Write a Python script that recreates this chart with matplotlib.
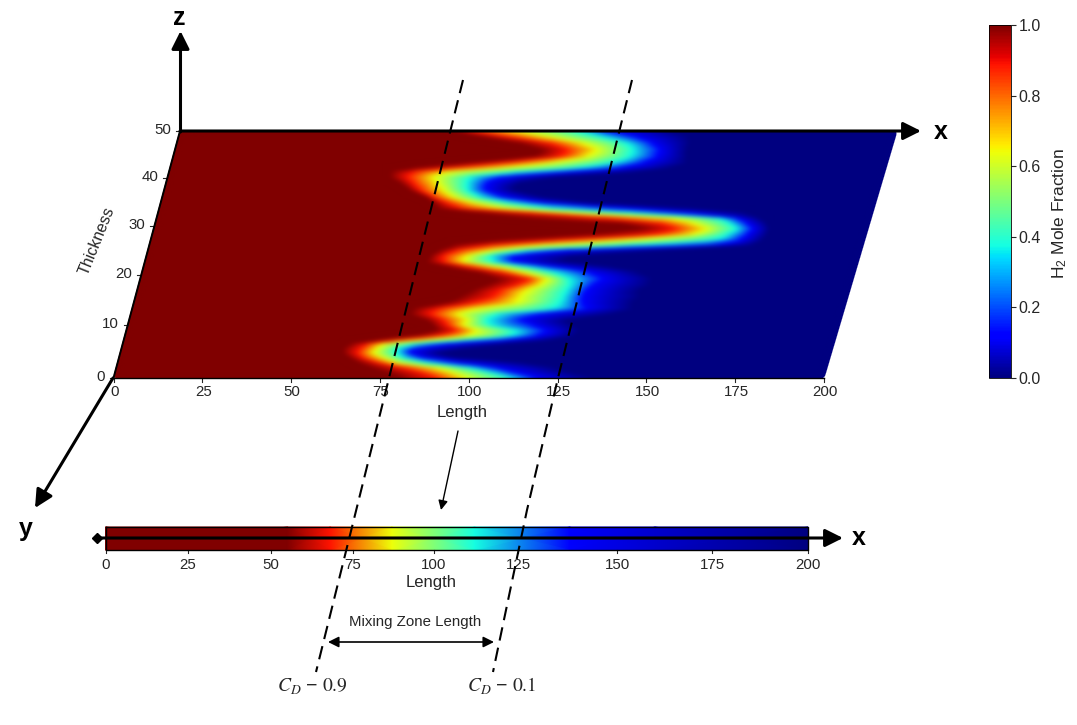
"""Mixing-zone sketch: sheared H2 mole fraction map, its 1D average strip, colorbar and axes."""

import numpy as np
import matplotlib
matplotlib.use("Agg")
import matplotlib.pyplot as plt
from matplotlib.cm import ScalarMappable
from matplotlib.colors import Normalize

plt.rcParams["font.family"] = ["Liberation Sans", "DejaVu Sans"]
plt.rcParams["mathtext.default"] = "regular"

TEXT = "#262626"

# iso-fraction fronts: length where each row reaches a level
THICKNESS = [50, 48.7, 47.4, 46, 44.5, 43.2, 42.1, 41.3, 40.2, 39, 37.5, 36, 34.8, 33.7, 32.7, 31.6,
             30.6, 29.4, 28.2, 27.1, 26.1, 25.1, 23.9, 22.7, 21.6, 20.6, 19.2, 18, 17, 15.6, 14.4,
             13.2, 12.2, 11, 10, 8.9, 7.9, 7.2, 6.4, 5.5, 4.7, 3.8, 2.8, 1.9, 0.9, 0]
FRONT_100 = [76.2, 85, 95.8, 102.8, 100.5, 83.4, 67.9, 61.8, 62.1, 65.4, 68.7, 74, 76.2, 78, 90.1, 105.3,
             130.1, 138.1, 121.8, 97.8, 85, 81.8, 79.5, 79.1, 85.9, 93.9, 100.9, 97.7, 94.2, 91.1, 87.9,
             78.8, 78.4, 83.6, 85.7, 87.3, 81, 72, 63.9, 62.3, 62.6, 65, 68.2, 72.2, 77.4, 81.4]
FRONT_089 = [80.9, 92.6, 104.2, 109.5, 108, 92.6, 77.4, 68.2, 66.9, 69, 71.5, 75.7, 80.1, 84.1, 104.9, 126,
             141.2, 146.5, 140.3, 114.6, 95.4, 86.6, 83.1, 83.6, 91.5, 100.3, 109.3, 106.1, 101.7, 100.3, 95.2,
             85.6, 84, 88.1, 89.6, 92.9, 87.7, 76.8, 68.7, 67.1, 66.6, 68.6, 73.8, 80.7, 86.7, 91.8]
FRONT_064 = [92.9, 103.7, 113.4, 117.8, 115.6, 105.8, 93, 77.7, 74.2, 75.7, 77.9, 81.3, 87.4, 95.9, 115.3, 144.5,
             150.5, 154.9, 151.5, 133.4, 110.2, 96.6, 89.8, 89.2, 99.9, 106.8, 114.1, 112.6, 109.3, 107.9, 107.5,
             95.7, 91.6, 94.9, 94.1, 98.5, 96.1, 86, 73.2, 71.8, 71.1, 74.2, 78.6, 90.2, 95.1, 99.4]
FRONT_038 = [110.7, 118.5, 125.7, 127.9, 127.6, 123.3, 113.7, 97.2, 84.5, 84.1, 84.7, 88.8, 97.7, 109.3, 132.9, 157.7,
             160.8, 163.3, 161, 158.6, 135.5, 106.2, 96.3, 97.6, 107.5, 115.2, 120.5, 121, 120.5, 120, 119.6,
             118.1, 102.8, 100.5, 101.7, 109.8, 108.2, 96.4, 81.6, 77.5, 77.8, 79.9, 87.9, 99.5, 106.4, 112.4]
FRONT_012 = [118, 128, 132.9, 135.4, 135.1, 131.7, 125.7, 112, 92.9, 89.7, 89.7, 95.3, 106.9, 128.9, 148, 162.4,
             165.6, 167.8, 166.6, 165, 159.8, 117.4, 102.7, 103.2, 115.9, 125.6, 129.8, 127.5, 126.1, 125.6, 126.1,
             127.7, 114.9, 109.7, 113.8, 118.2, 115.8, 107.7, 91.1, 82, 81.4, 85.5, 96.3, 107.1, 113.1, 119.1]
FRONT_000 = [136.7, 142.8, 143.3, 143, 143.5, 144, 139.7, 130.8, 108.8, 98.9, 97.5, 106.5, 120.1, 148.4, 164.8, 168.9,
             171.2, 172.5, 172.2, 171.4, 169.1, 145.4, 119.5, 117.2, 131.6, 139.6, 143.8, 143.4, 141, 141.6, 140.1,
             140.6, 135.4, 122.9, 125, 127.5, 125.9, 120.6, 108, 96, 89, 95, 115.1, 124, 128.9, 134.9]
LEVELS = [1.0, 1.0, 0.89, 0.64, 0.375, 0.125, 0.0, 0.0]

# width-averaged strip
STRIP_LENGTH = [0, 55, 68, 87, 112, 138, 160, 200]
STRIP_VALUE = [1.0, 1.0, 0.89, 0.64, 0.375, 0.125, 0.07, 0.0]

LENGTH_TICKS = [0, 25, 50, 75, 100, 125, 150, 175, 200]
THICK_TICKS = [0, 10, 20, 30, 40, 50]
CBAR_TICKS = [0.0, 0.2, 0.4, 0.6, 0.8, 1.0]

# picture calibration
THICK_PX = [378, 325, 275, 226, 178, 131]
STRIP_PX = [105.5, 188, 271, 353, 434, 518, 617, 712, 808]


def map_xy(length, thick):
    # sheared plane: the top edge sits up and to the right of the bottom edge
    length, thick = np.asarray(length, float), np.asarray(thick, float)
    y = np.interp(thick, THICK_TICKS, THICK_PX)
    frac = (378 - y) / 247
    left = 113.5 + 66.5 * frac
    right = 824 + 73 * frac
    return left + (right - left) * length / 200, y


def strip_x(length):
    return np.interp(length, LENGTH_TICKS, STRIP_PX)


def soften(img, dpi):
    # agg filter: the source image is slightly out of focus; keep the hard map outline
    kernel = np.exp(-0.5 * (np.arange(-7, 8) / 2.2) ** 2)
    kernel /= kernel.sum()
    pad = 8
    img = np.pad(img, ((pad, pad), (pad, pad), (0, 0)), mode="constant")
    work = img.copy()
    work[..., :3] *= work[..., 3:]
    for axis in (0, 1):
        work = np.apply_along_axis(np.convolve, axis, work, kernel, mode="same")
    alpha = work[..., 3:]
    work[..., :3] /= np.maximum(alpha, 1e-3)
    work[..., 3] = np.clip((alpha[..., 0] - 0.4) * 5, 0, 1)
    return np.clip(work, 0, 1), -pad, -pad


def arrow(ax, start, end, lw=2.2, scale=18, style="-|>"):
    ax.annotate("", xy=end, xytext=start,
                arrowprops=dict(arrowstyle=style, color="black", lw=lw, mutation_scale=scale,
                                shrinkA=0, shrinkB=0))


def main():
    fig = plt.figure(figsize=(10.77, 7.25), dpi=100)
    ax = fig.add_axes([0, 0, 1, 1])
    ax.set_xlim(0, 1077)
    ax.set_ylim(725, 0)
    ax.axis("off")
    norm = Normalize(0, 1)

    # main map
    n = len(THICKNESS)
    lengths = np.column_stack([np.zeros(n), FRONT_100, FRONT_089, FRONT_064, FRONT_038, FRONT_012,
                               FRONT_000, np.full(n, 200.0)])
    thicks = np.repeat(np.array(THICKNESS)[:, None], lengths.shape[1], axis=1)
    values = np.tile(LEVELS, (n, 1))
    mx, my = map_xy(lengths, thicks)
    mesh = ax.pcolormesh(mx, my, values, cmap="jet", norm=norm, shading="gouraud")
    mesh.set_agg_filter(soften)

    ex, ey = map_xy([0, 0], [0, 50])
    ax.plot(ex, ey, color="black", lw=1.4, zorder=3)
    ex, ey = map_xy([0, 200], [0, 0])
    ax.plot(ex, ey, color="black", lw=1.0, zorder=3)

    for v in LENGTH_TICKS:
        x, y = map_xy(v, 0)
        ax.plot([x, x], [y, y + 4], color=TEXT, lw=0.8)
        ax.text(x + 1, y + 14, str(v), ha="center", va="center", fontsize=10.8, color=TEXT)
    for v in THICK_TICKS:
        x, y = map_xy(0, v)
        ax.plot([x - 4, x], [y, y], color=TEXT, lw=0.8)
        ax.text(x - 9, y - 1, str(v), ha="right", va="center", fontsize=10.8, color=TEXT)
    ax.text(462, 412, "Length", ha="center", va="center", fontsize=12, color=TEXT)
    ax.text(97, 241, "Thickness", ha="center", va="center", rotation=68, fontsize=11.5, color=TEXT)

    # strip
    sx = strip_x(STRIP_LENGTH)
    sxx = np.vstack([sx, sx])
    syy = np.vstack([np.full(len(sx), 527.0), np.full(len(sx), 550.0)])
    ax.pcolormesh(sxx, syy, np.vstack([STRIP_VALUE, STRIP_VALUE]), cmap="jet", norm=norm,
                  shading="gouraud", rasterized=True)
    ax.plot([105.5, 808, 808, 105.5, 105.5], [527, 527, 550, 550, 527], color="black", lw=1.0, zorder=3)
    for v in LENGTH_TICKS:
        x = strip_x(v)
        ax.plot([x, x], [550, 553], color=TEXT, lw=0.8)
        ax.text(x, 565, str(v), ha="center", va="center", fontsize=10.8, color=TEXT)
    ax.text(431, 583, "Length", ha="center", va="center", fontsize=12, color=TEXT)

    # coordinate arrows
    arrow(ax, (180.5, 132), (180.5, 31), lw=2.2, scale=27)
    arrow(ax, (180, 131), (921, 131), lw=2.2, scale=27)
    arrow(ax, (113, 378), (35, 508), lw=2.2, scale=27)
    arrow(ax, (97, 538), (843, 538), lw=2.2, scale=27)
    ax.plot([97], [538], marker="D", ms=5.5, color="black")
    ax.text(179, 18, "z", ha="center", va="center", fontsize=18, fontweight="bold", color="black")
    ax.text(941, 132, "x", ha="center", va="center", fontsize=18, fontweight="bold", color="black")
    ax.text(26, 529, "y", ha="center", va="center", fontsize=18, fontweight="bold", color="black")
    ax.text(859, 538, "x", ha="center", va="center", fontsize=18, fontweight="bold", color="black")

    # dashed fronts
    ax.plot([463, 316], [80, 672], color="black", lw=1.5, dashes=(6.5, 3.5), zorder=4)
    ax.plot([632, 558, 527, 493], [80, 378, 510, 672], color="black", lw=1.5, dashes=(6.5, 3.5), zorder=4)

    # annotations
    arrow(ax, (458, 431), (441, 510), lw=1.0, scale=14)
    arrow(ax, (328, 642), (494, 642), lw=1.2, scale=16, style="<|-|>")
    ax.text(415, 622, "Mixing Zone Length", ha="center", va="center", fontsize=10.8, color=TEXT)
    for x, lab in zip([312, 502], [r"$\mathit{C}_{\mathit{D}}\,-\,\mathrm{0.9}$",
                                   r"$\mathit{C}_{\mathit{D}}\,-\,\mathrm{0.1}$"]):
        ax.text(x, 686, lab, ha="center", va="center", fontsize=14, color=TEXT,
                math_fontfamily="stix")

    # colorbar
    cax = fig.add_axes([989 / 1077, 1 - 378 / 725, 22 / 1077, 353 / 725])
    cb = fig.colorbar(ScalarMappable(norm=norm, cmap="jet"), cax=cax, ticks=CBAR_TICKS)
    cb.outline.set_linewidth(0.6)
    cb.ax.tick_params(labelsize=11.5, length=3.5, width=0.8, pad=2, colors=TEXT)
    cb.set_label(r"H$_2$ Mole Fraction", fontsize=12.5, color=TEXT, labelpad=7, y=0.467)

    fig.savefig("out.png", dpi=100)


if __name__ == "__main__":
    main()
